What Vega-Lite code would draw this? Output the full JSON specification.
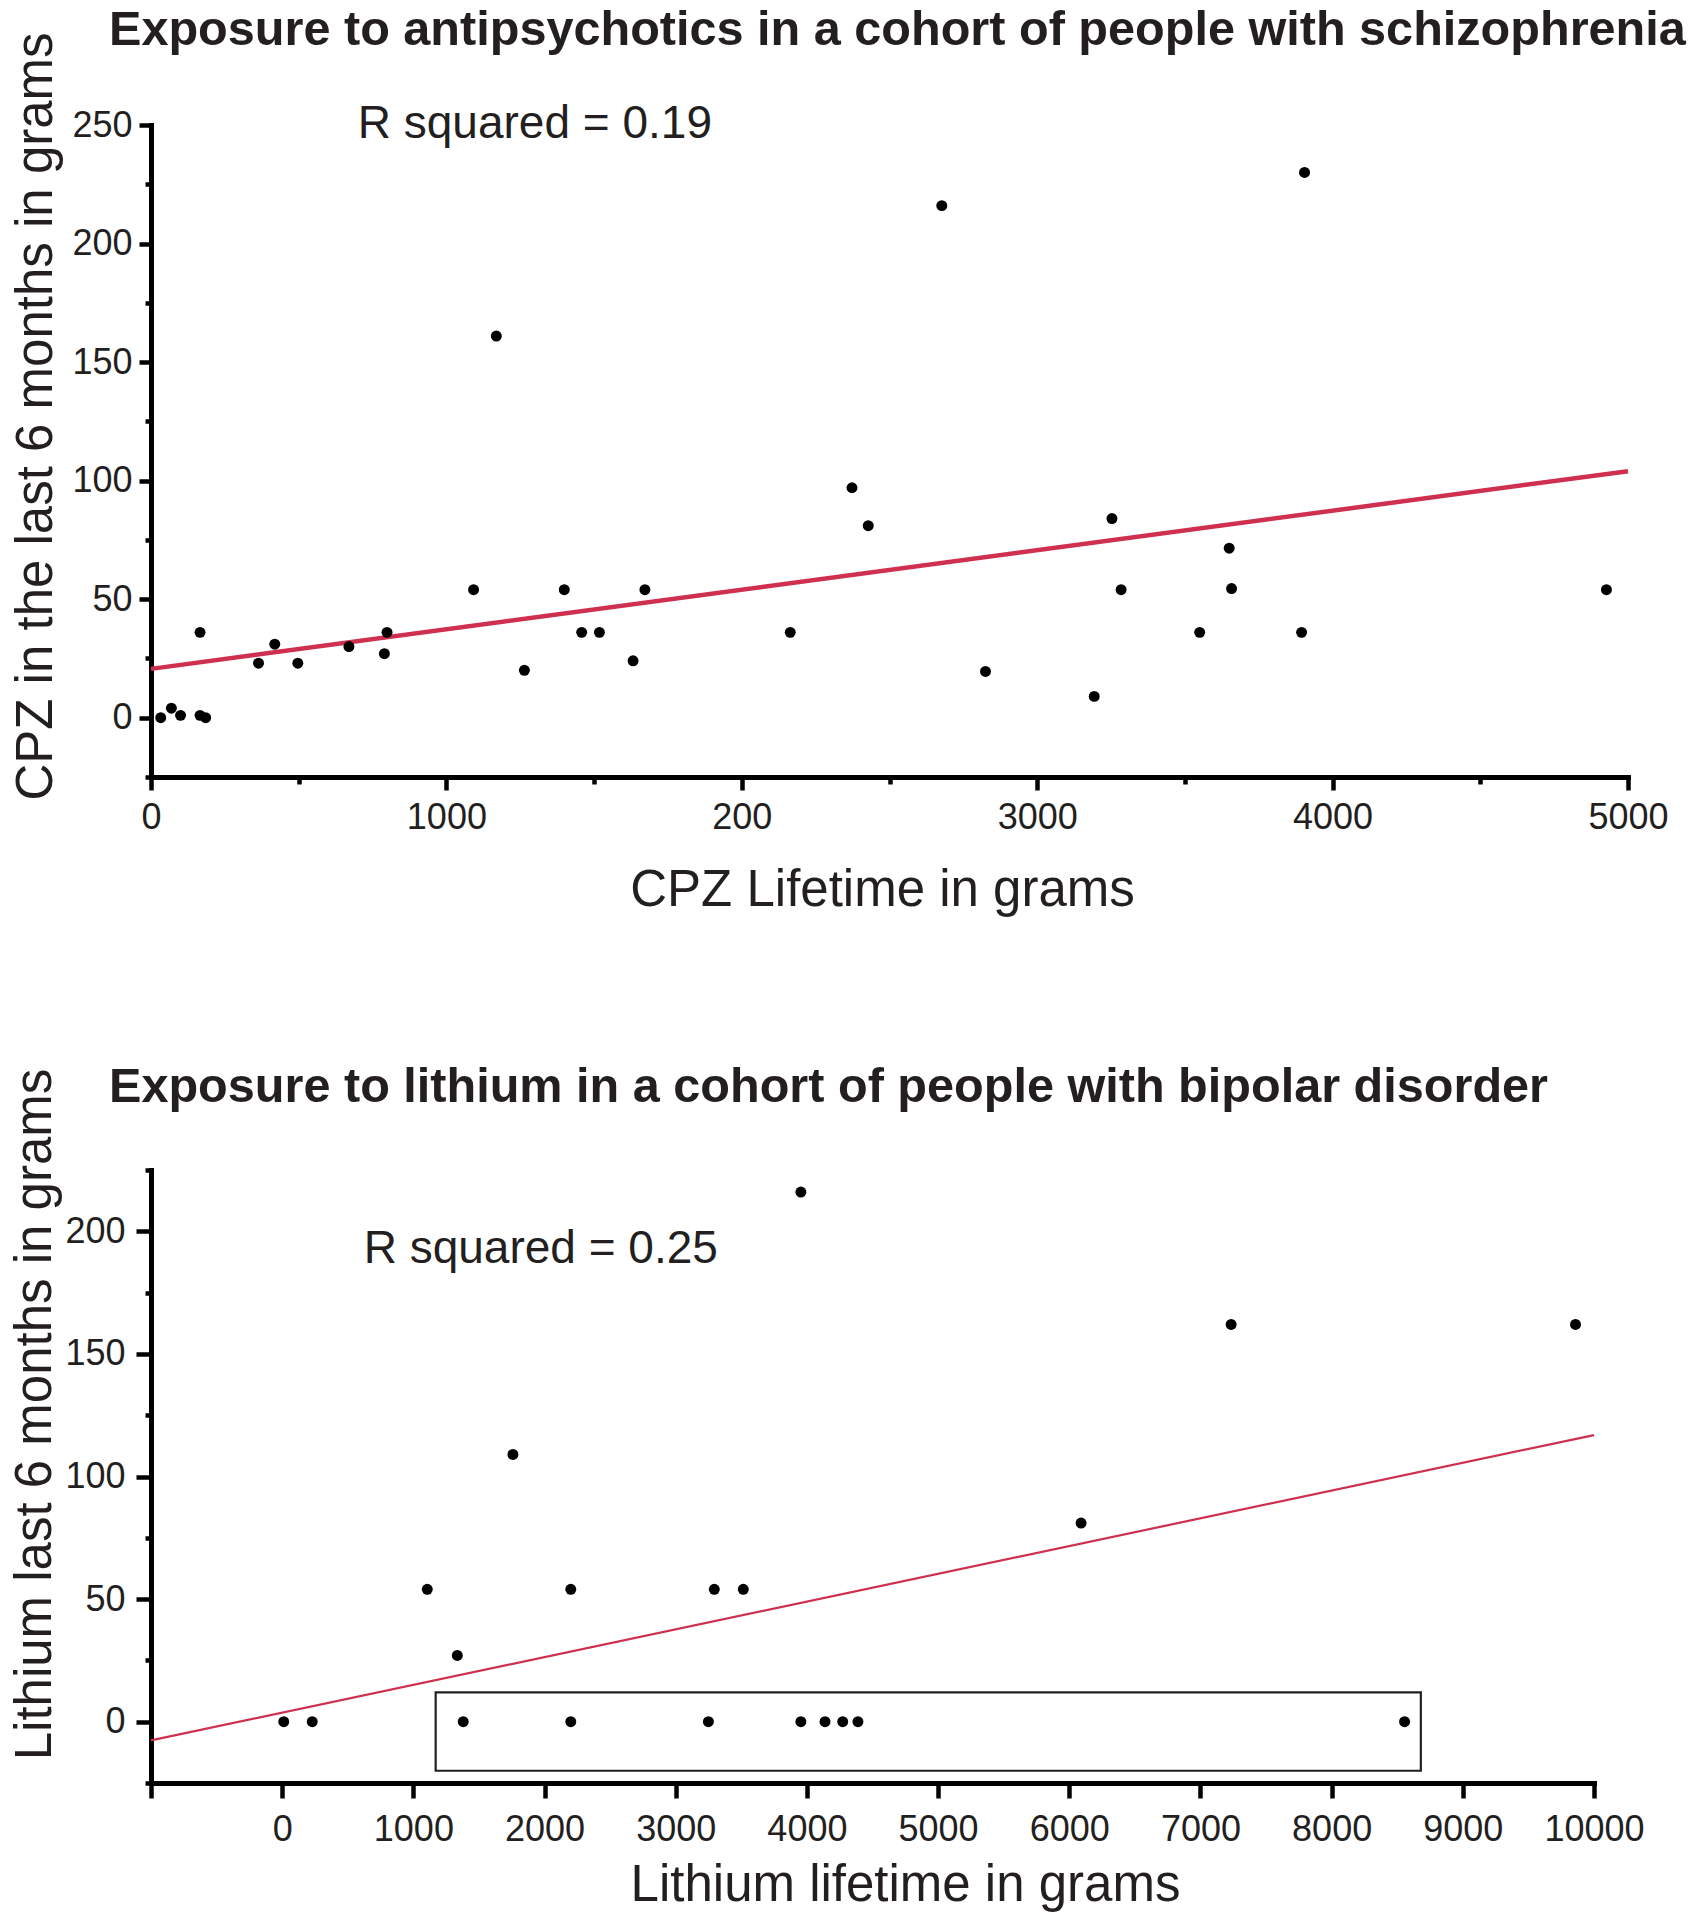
{
  "$schema": "https://vega.github.io/schema/vega-lite/v6.json",
  "background": "white",
  "padding": {"left": 8, "top": 6, "right": 5, "bottom": 5},
  "spacing": 147,
  "config": {
    "font": "Liberation Sans",
    "view": {"stroke": null},
    "axis": {
      "domainColor": "#000000", "domainWidth": 5, "domainCap": "square",
      "tickColor": "#000000", "tickWidth": 4.5,
      "labelColor": "#231f20", "labelFontSize": 36, "labelFont": "Liberation Sans",
      "titleFont": "Liberation Sans", "titleFontSize": 51, "titleFontWeight": "normal", "titleColor": "#231f20",
      "grid": false, "labelOverlap": false, "labelFlush": false
    },
    "title": {"font": "Liberation Sans", "fontSize": 48.6, "fontWeight": "bold", "color": "#231f20", "anchor": "start", "frame": "group"}
  },
  "vconcat": [
    {
      "width": 1477,
      "height": 652,
      "title": {"text": "Exposure to antipsychotics in a cohort of people with schizophrenia", "dx": -42, "offset": -24},
      "layer": [
        {
          "data": {"values": [{"lifetime": 0, "last6": 20.6}, {"lifetime": 5000, "last6": 104}]},
          "mark": {"type": "line", "color": "#cf3050", "strokeWidth": 4.5},
          "encoding": {
            "x": {"field": "lifetime", "type": "quantitative"},
            "y": {"field": "last6", "type": "quantitative"}
          }
        },
        {
          "data": {"values": [
            {"lifetime": 33, "last6": 0}, {"lifetime": 69, "last6": 4}, {"lifetime": 100, "last6": 1},
            {"lifetime": 166, "last6": 36}, {"lifetime": 166, "last6": 1}, {"lifetime": 185, "last6": 0},
            {"lifetime": 364, "last6": 23}, {"lifetime": 419, "last6": 31}, {"lifetime": 497, "last6": 23},
            {"lifetime": 670, "last6": 30}, {"lifetime": 790, "last6": 27}, {"lifetime": 799, "last6": 36},
            {"lifetime": 1092, "last6": 54}, {"lifetime": 1169, "last6": 161}, {"lifetime": 1264, "last6": 20},
            {"lifetime": 1399, "last6": 54}, {"lifetime": 1458, "last6": 36}, {"lifetime": 1518, "last6": 36},
            {"lifetime": 1632, "last6": 24}, {"lifetime": 1672, "last6": 54}, {"lifetime": 2164, "last6": 36},
            {"lifetime": 2373, "last6": 97}, {"lifetime": 2428, "last6": 81}, {"lifetime": 2677, "last6": 216},
            {"lifetime": 2825, "last6": 19.5}, {"lifetime": 3193, "last6": 9}, {"lifetime": 3253, "last6": 84},
            {"lifetime": 3284, "last6": 54}, {"lifetime": 3550, "last6": 36}, {"lifetime": 3650, "last6": 71.5},
            {"lifetime": 3658, "last6": 54.5}, {"lifetime": 3895, "last6": 36}, {"lifetime": 3905, "last6": 230},
            {"lifetime": 4927, "last6": 54}
          ]},
          "mark": {"type": "circle", "color": "#000000", "size": 120, "opacity": 1},
          "encoding": {
            "x": {
              "field": "lifetime", "type": "quantitative",
              "scale": {"domain": [0, 5000], "nice": false, "zero": false},
              "axis": {
                "title": "CPZ Lifetime in grams",
                "values": [0, 500, 1000, 1500, 2000, 2500, 3000, 3500, 4000, 4500, 5000],
                "format": "d",
                "labelExpr": "datum.value % 1000 === 0 ? (datum.value === 2000 ? '200' : datum.label) : ''",
                "tickSize": {"condition": {"test": "datum.value % 1000 !== 0", "value": 7}, "value": 13},
                "labelPadding": 10,
                "titleX": 731, "titleY": 128, "titleBaseline": "alphabetic", "titleAlign": "center"
              }
            },
            "y": {
              "field": "last6", "type": "quantitative",
              "scale": {"domain": [-25, 250], "nice": false, "zero": false},
              "axis": {
                "title": "CPZ in the last 6 months in grams",
                "values": [-25, 0, 25, 50, 75, 100, 125, 150, 175, 200, 225, 250],
                "labelExpr": "datum.value % 50 === 0 ? datum.label : ''",
                "tickSize": {"condition": {"test": "datum.value % 50 !== 0", "value": 6}, "value": 12},
                "labelPadding": 7,
                "titleAngle": 270, "titleBaseline": "alphabetic", "titleAlign": "center",
                "titleX": -100, "titleY": 291
              }
            }
          }
        },
        {
          "data": {"values": [{"note": "R squared = 0.19"}]},
          "mark": {"type": "text", "align": "left", "baseline": "alphabetic", "fontSize": 46, "color": "#231f20", "font": "Liberation Sans"},
          "encoding": {
            "x": {"datum": 700, "type": "quantitative"},
            "y": {"datum": 244.5, "type": "quantitative"},
            "text": {"field": "note"}
          }
        }
      ]
    },
    {
      "width": 1443,
      "height": 613,
      "title": {"text": "Exposure to lithium in a cohort of people with bipolar disorder", "dx": -42, "offset": -44},
      "layer": [
        {
          "data": {"values": [{"note": "zero exposure in last 6 months"}]},
          "mark": {"type": "rect", "fill": null, "fillOpacity": 0, "stroke": "#231f20", "strokeWidth": 2.2},
          "encoding": {
            "x": {"datum": 1170, "type": "quantitative"},
            "x2": {"datum": 8680},
            "y": {"datum": -20, "type": "quantitative"},
            "y2": {"datum": 12}
          }
        },
        {
          "data": {"values": [{"lifetime": -1000, "last6": -7.6}, {"lifetime": 10000, "last6": 116.9}]},
          "mark": {"type": "line", "color": "#cf3050", "strokeWidth": 2.2},
          "encoding": {
            "x": {"field": "lifetime", "type": "quantitative"},
            "y": {"field": "last6", "type": "quantitative"}
          }
        },
        {
          "data": {"values": [
            {"lifetime": 12, "last6": 0}, {"lifetime": 229, "last6": 0}, {"lifetime": 1106, "last6": 54},
            {"lifetime": 1335, "last6": 27}, {"lifetime": 1380, "last6": 0}, {"lifetime": 1759, "last6": 109},
            {"lifetime": 2200, "last6": 54}, {"lifetime": 2200, "last6": 0}, {"lifetime": 3249, "last6": 0},
            {"lifetime": 3294, "last6": 54}, {"lifetime": 3515, "last6": 54}, {"lifetime": 3954, "last6": 216},
            {"lifetime": 3954, "last6": 0}, {"lifetime": 4138, "last6": 0}, {"lifetime": 4273, "last6": 0},
            {"lifetime": 4389, "last6": 0}, {"lifetime": 6090, "last6": 81}, {"lifetime": 7234, "last6": 162},
            {"lifetime": 8556, "last6": 0}, {"lifetime": 9859, "last6": 162}
          ]},
          "mark": {"type": "circle", "color": "#000000", "size": 120, "opacity": 1},
          "encoding": {
            "x": {
              "field": "lifetime", "type": "quantitative",
              "scale": {"domain": [-1000, 10000], "nice": false, "zero": false},
              "axis": {
                "title": "Lithium lifetime in grams",
                "values": [-1000, 0, 1000, 2000, 3000, 4000, 5000, 6000, 7000, 8000, 9000, 10000],
                "format": "d",
                "labelExpr": "datum.value < 0 ? '' : datum.label",
                "tickSize": 15,
                "labelPadding": 14,
                "titleX": 754, "titleY": 117, "titleBaseline": "alphabetic", "titleAlign": "center"
              }
            },
            "y": {
              "field": "last6", "type": "quantitative",
              "scale": {"domain": [-25, 225], "nice": false, "zero": false},
              "axis": {
                "title": "Lithium last 6 months in grams",
                "values": [-25, 0, 25, 50, 75, 100, 125, 150, 175, 200, 225],
                "labelExpr": "datum.value % 50 === 0 ? datum.label : ''",
                "tickSize": {"condition": {"test": "datum.value % 50 !== 0", "value": 6}, "value": 15},
                "labelPadding": 11,
                "titleAngle": 270, "titleBaseline": "alphabetic", "titleAlign": "center",
                "titleX": -101, "titleY": 244
              }
            }
          }
        },
        {
          "data": {"values": [{"note": "R squared = 0.25"}]},
          "mark": {"type": "text", "align": "left", "baseline": "alphabetic", "fontSize": 46, "color": "#231f20", "font": "Liberation Sans"},
          "encoding": {
            "x": {"datum": 621, "type": "quantitative"},
            "y": {"datum": 187, "type": "quantitative"},
            "text": {"field": "note"}
          }
        }
      ]
    }
  ]
}
